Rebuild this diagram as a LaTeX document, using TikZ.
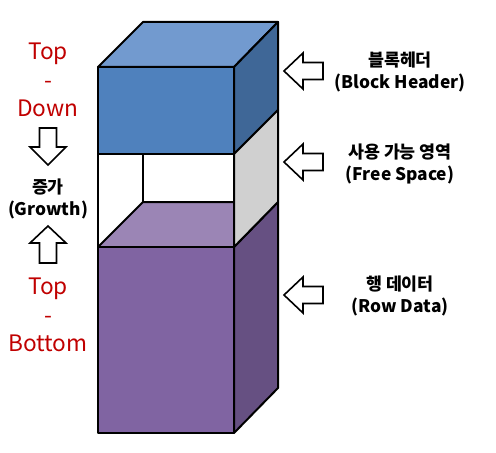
\documentclass[tikz,border=0pt]{standalone}
\usepackage{fontspec}
\setmainfont{Noto Sans CJK KR}
\usetikzlibrary{positioning}

\definecolor{hdrfront}{HTML}{4F81BD}
\definecolor{hdrtop}{HTML}{729ACF}
\definecolor{hdrside}{HTML}{3F6797}
\definecolor{freeside}{HTML}{D0D0D0}
\definecolor{rowfront}{HTML}{8064A2}
\definecolor{rowtop}{HTML}{9B85B5}
\definecolor{rowside}{HTML}{665082}
\definecolor{dirred}{HTML}{C00000}

\tikzset{
  face/.style={draw=black, line width=1.5pt, line join=round},
  blockarrow/.style={draw=black, fill=white, line width=1.2pt, line join=miter},
  partlabel/.style={align=center, inner sep=0.75pt, font=\bfseries\fontsize{13}{16.5}\selectfont},
  dirlabel/.style={align=center, inner sep=0.75pt, text=dirred, font=\fontsize{17}{21.5}\selectfont},
}

\begin{document}
\begin{tikzpicture}[x=0.75pt,y=0.75pt,yscale=-1,xscale=1]
        \useasboundingbox (0,0) rectangle (496,453);

        %Block header box
        \draw [face, fill=hdrtop] (98,67) -- (143,22) -- (278,22) -- (234,67) -- cycle ;
        \draw [face, fill=hdrside] (234,67) -- (278,22) -- (278,110) -- (234,154) -- cycle ;
        \draw [face, fill=hdrfront] (98,67) -- (234,67) -- (234,154) -- (98,154) -- cycle ;

        %Row data box
        \draw [face, fill=rowtop] (98,247) -- (143,202) -- (278,202) -- (234,247) -- cycle ;
        \draw [face, fill=rowside] (234,247) -- (278,202) -- (278,388) -- (234,433) -- cycle ;
        \draw [face, fill=rowfront] (98,247) -- (234,247) -- (234,433) -- (98,433) -- cycle ;

        %Free space between them
        \draw [face, fill=freeside] (234,154) -- (278,110) -- (278,202) -- (234,247) -- cycle ;
        \draw [face] (143,154) -- (143,202) ;
        \draw [face] (98,154) -- (98,247) ;

        %Arrows pointing at the parts
        \draw [blockarrow, shift={(284,71)}] (0,0) -- (19,-18) -- (19,-8.5) -- (39,-8.5) -- (39,8.5) -- (19,8.5) -- (19,18) -- cycle ;
        \draw [blockarrow, shift={(284,162)}] (0,0) -- (19,-18) -- (19,-8.5) -- (39,-8.5) -- (39,8.5) -- (19,8.5) -- (19,18) -- cycle ;
        \draw [blockarrow, shift={(284,295)}] (0,0) -- (19,-18) -- (19,-8.5) -- (39,-8.5) -- (39,8.5) -- (19,8.5) -- (19,18) -- cycle ;

        %Growth arrows
        \draw [blockarrow, shift={(48,165)}] (0,0) -- (-18,-18) -- (-8.5,-18) -- (-8.5,-37) -- (8.5,-37) -- (8.5,-18) -- (18,-18) -- cycle ;
        \draw [blockarrow, shift={(48,226)}] (0,0) -- (-18,17) -- (-8.5,17) -- (-8.5,37) -- (8.5,37) -- (8.5,17) -- (18,17) -- cycle ;

        % Text Node
        \node [partlabel] (header) at (400,72) {블록헤더\\(Block Header)};
        % Text Node
        \node [partlabel] (free) at (400,164) {사용 가능 영역\\(Free Space)};
        % Text Node
        \node [partlabel] (rows) at (400,296) {행 데이터\\(Row Data)};
        % Text Node
        \node [dirlabel] (topdown) at (48,80) {Top\\-\\Down};
        % Text Node
        \node [partlabel] (growth) at (48,199) {증가\\(Growth)};
        % Text Node
        \node [dirlabel] (topbottom) at (48,315) {Top\\-\\Bottom};

\end{tikzpicture}
\end{document}
